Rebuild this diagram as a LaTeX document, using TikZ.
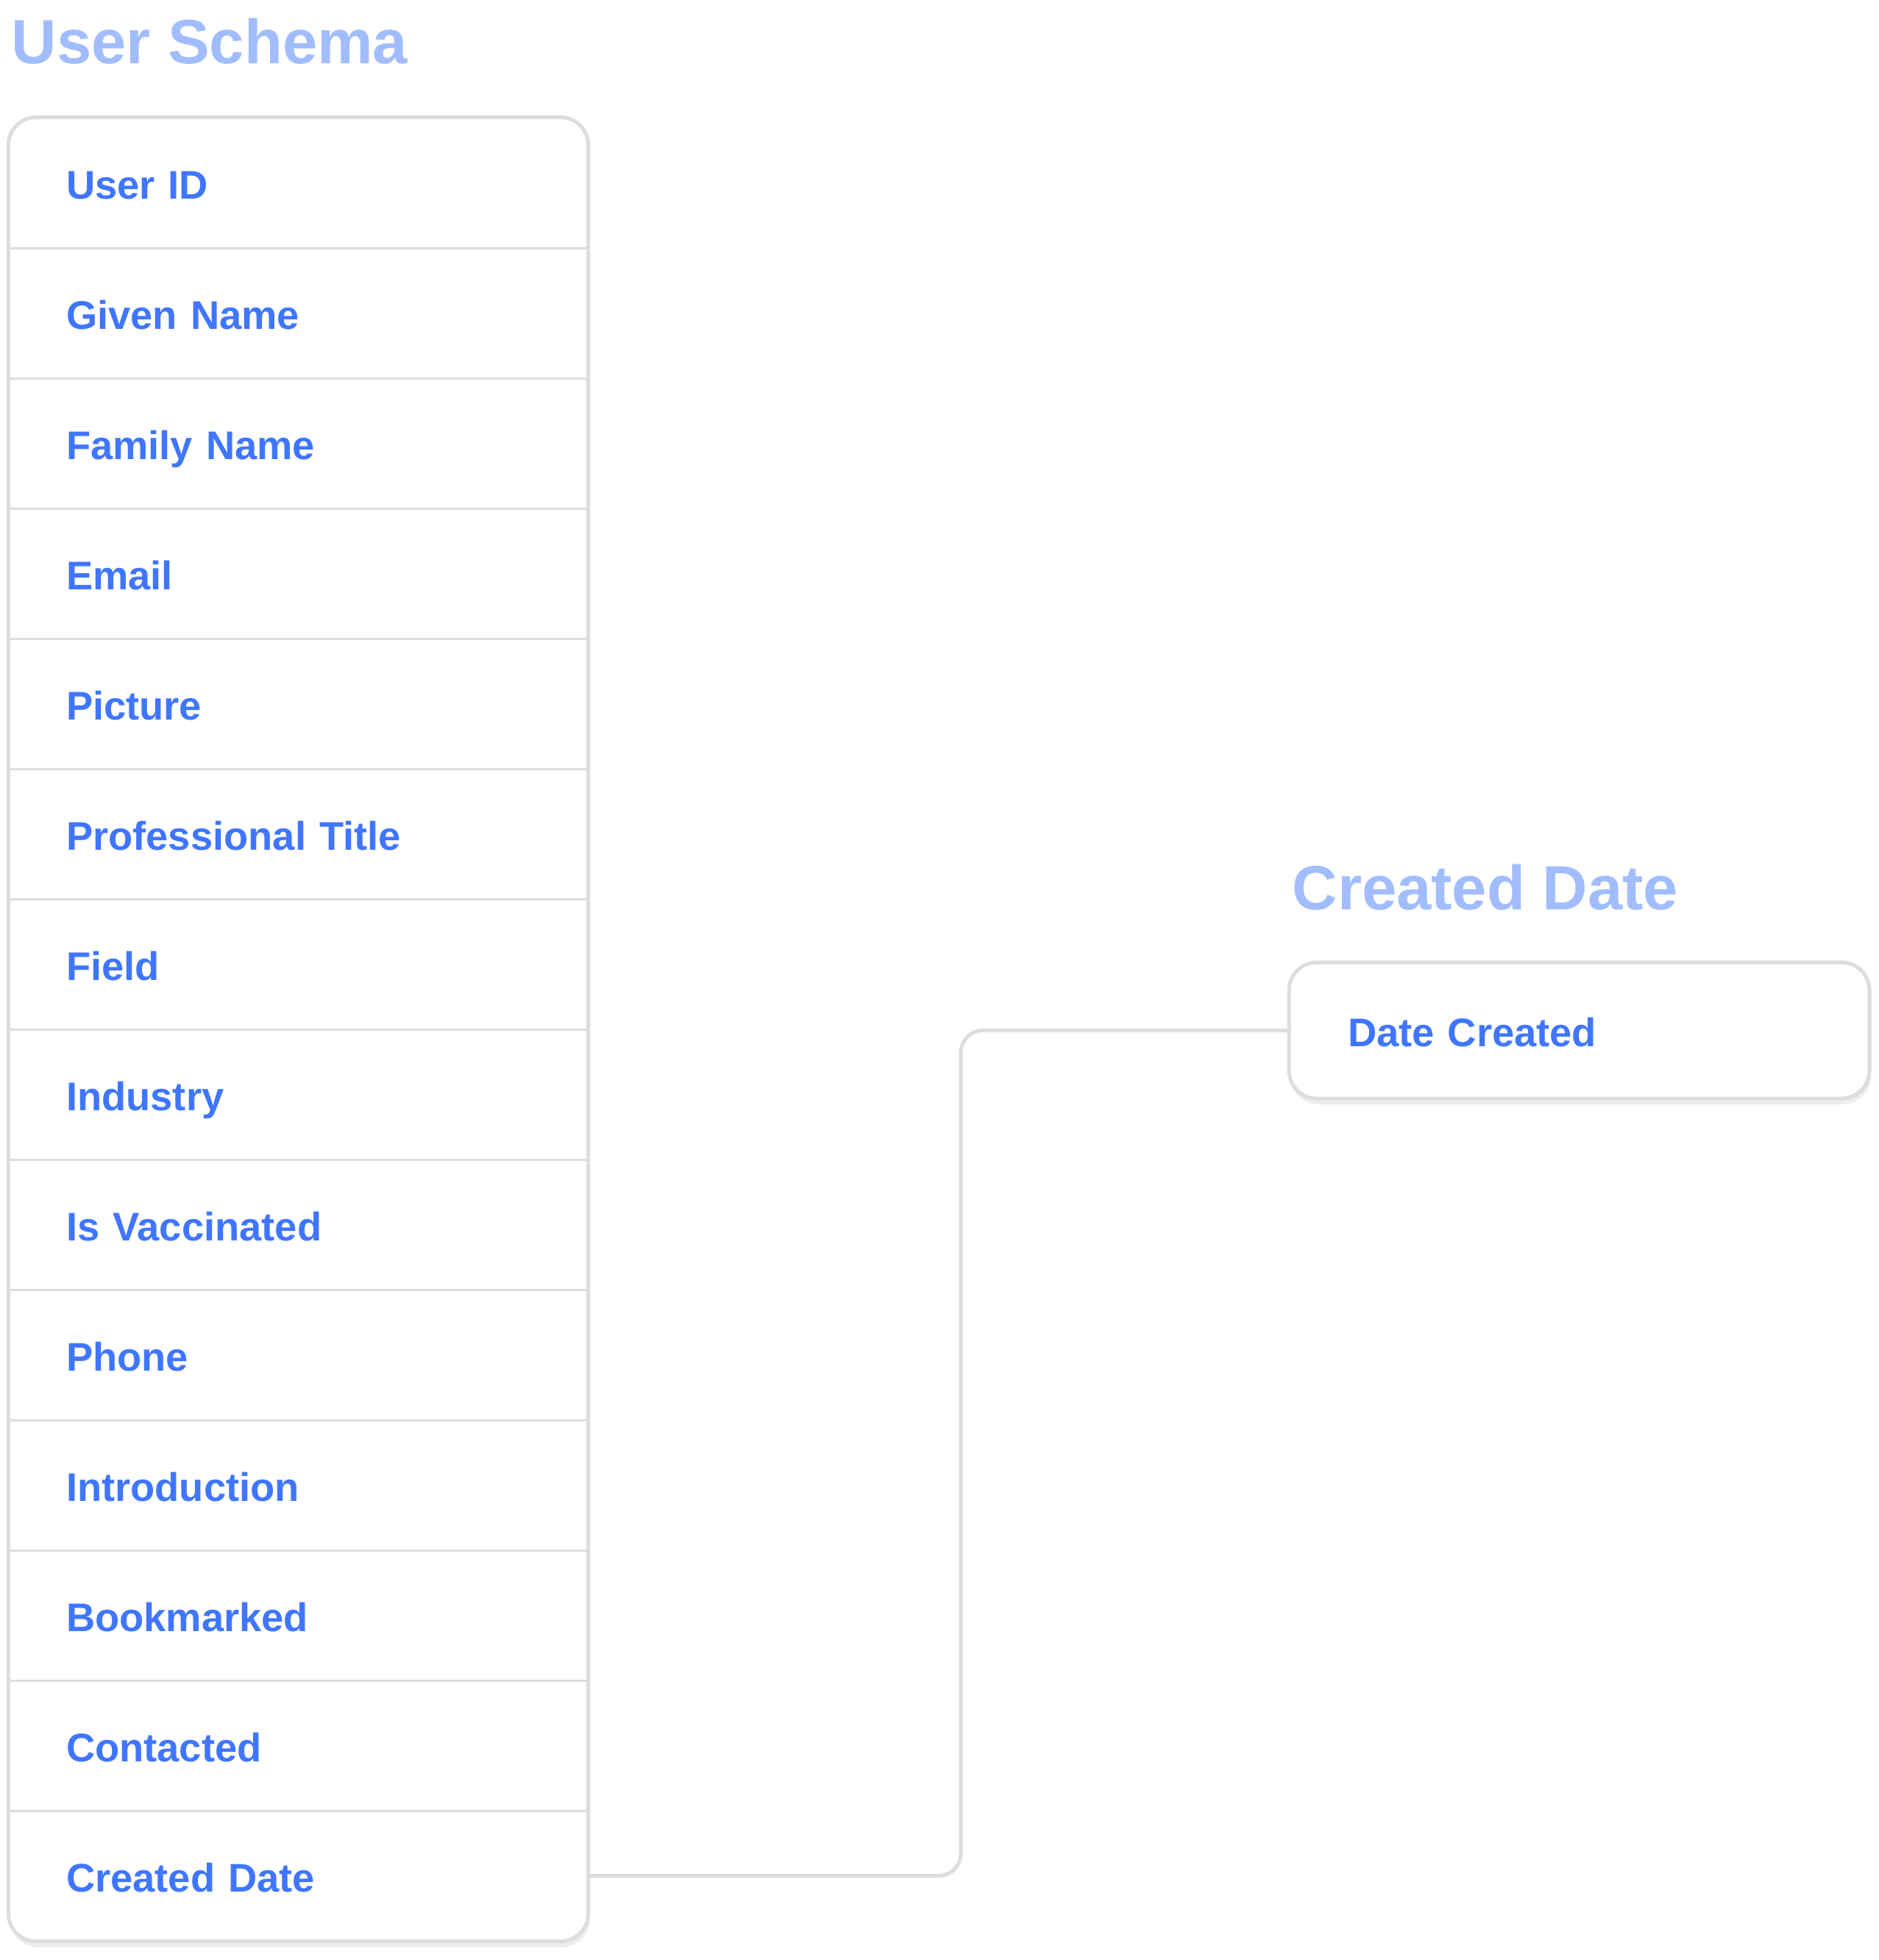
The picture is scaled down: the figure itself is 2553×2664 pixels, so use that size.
\documentclass[tikz,border=0pt]{standalone}
\usepackage{fontspec}
\setmainfont{Liberation Sans}
\usetikzlibrary{shadows,fit,backgrounds}
\definecolor{itemblue}{RGB}{64,118,255}
\definecolor{titleblue}{RGB}{161,189,255}
\definecolor{linegrey}{RGB}{221,221,221}
\newcommand\pxu{0.3pt}
\begin{document}
\begin{tikzpicture}[x=0.3pt,y=-0.3pt,
  item/.style={minimum width=787*\pxu, minimum height=177*\pxu, inner xsep=78*\pxu, inner ysep=0pt,
    text width=631*\pxu, align=left, text height=13pt, text depth=0pt,
    font=\fontsize{16.3pt}{18pt}\selectfont\bfseries, text=itemblue},
  frame/.style={draw=linegrey, line width=5*\pxu, fill=white, rounded corners=38*\pxu,
    drop shadow={shadow xshift=2*\pxu, shadow yshift=-8*\pxu, fill=black, opacity=0.07}},
  divider/.style={draw=linegrey, line width=3*\pxu},
  conn/.style={draw=linegrey, line width=5*\pxu, rounded corners=30*\pxu},
  title/.style={anchor=base west, inner sep=0pt, text=titleblue,
    font=\fontsize{25.5pt}{30pt}\selectfont\bfseries}
]
\useasboundingbox (0,0) rectangle (2553,2664);

\node[title] (t1) at (15,87) {User Schema};
\node[title] (t2) at (1756,1236) {Created Date};

\foreach \i/\txt in {1/User ID,2/Given Name,3/Family Name,4/Email,5/Picture,6/Professional Title,7/Field,8/Industry,9/Is Vaccinated,10/Phone,11/Introduction,12/Bookmarked,13/Contacted,14/Created Date}{
  \node[item] (r\i) at (405.5,{248.5+177*(\i-1)}) {\txt};
}

\node[item, frame, minimum width=789*\pxu, minimum height=185*\pxu, inner xsep=80*\pxu,
  text width=629*\pxu] (dc) at (2146.5,1400.5) {Date Created};

\begin{scope}[on background layer]
  \node[frame, fit=(r1)(r14), inner sep=0pt] (schema) {};
  \coordinate (bend) at (1306,0);
  \draw[conn] (r14.east) -| (bend |- dc.west) -- (dc.west);
\end{scope}

\foreach \i in {1,...,13}{
  \draw[divider] (r\i.south west) -- (r\i.south east);
}
\end{tikzpicture}
\end{document}
